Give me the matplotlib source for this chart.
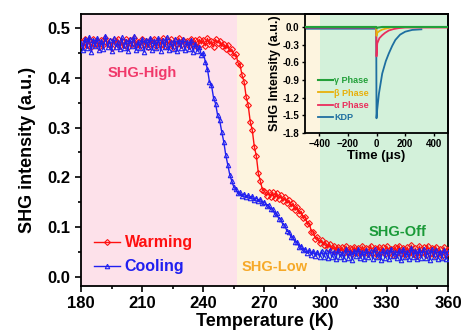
import numpy as np
import matplotlib
matplotlib.use("Agg")
import matplotlib.pyplot as plt
from matplotlib.ticker import MultipleLocator, FormatStrFormatter

plt.rcParams['font.family'] = ['Liberation Sans', 'DejaVu Sans']
plt.rcParams['font.weight'] = 'bold'

# ---- temperature-dependent SHG (1 K steps, 180-360 K) ----
temperature = np.arange(180, 361, 1)

warming = [
    0.472, 0.463, 0.478, 0.466, 0.475, 0.461, 0.477, 0.468, 0.474, 0.462,
    0.476, 0.465, 0.479, 0.467, 0.473, 0.460, 0.476, 0.469, 0.478, 0.464,
    0.474, 0.466, 0.477, 0.462, 0.475, 0.468, 0.479, 0.465, 0.472, 0.463,
    0.477, 0.467, 0.474, 0.461, 0.476, 0.469, 0.478, 0.464, 0.473, 0.466,
    0.479, 0.463, 0.475, 0.468, 0.477, 0.462, 0.474, 0.467, 0.480, 0.465,
    0.476, 0.469, 0.474, 0.463, 0.478, 0.466, 0.475, 0.461, 0.477, 0.468,
    0.476, 0.464, 0.479, 0.467, 0.474, 0.462, 0.477, 0.470, 0.474, 0.463,
    0.468, 0.458, 0.466, 0.452, 0.457, 0.444, 0.447, 0.430, 0.426, 0.405,
    0.392, 0.362, 0.345, 0.312, 0.295, 0.262, 0.243, 0.208, 0.192, 0.175,
    0.172, 0.163, 0.171, 0.160, 0.170, 0.158, 0.168, 0.157, 0.164, 0.152,
    0.160, 0.148, 0.154, 0.141, 0.148, 0.134, 0.141, 0.127, 0.132, 0.118,
    0.121, 0.106, 0.108, 0.091, 0.090, 0.077, 0.080, 0.068, 0.074, 0.064,
    0.069, 0.058, 0.066, 0.055, 0.063, 0.052, 0.061, 0.050, 0.060, 0.049,
    0.062, 0.049, 0.059, 0.047, 0.061, 0.050, 0.058, 0.046, 0.062, 0.051,
    0.059, 0.047, 0.063, 0.049, 0.058, 0.045, 0.061, 0.050, 0.060, 0.046,
    0.062, 0.048, 0.057, 0.044, 0.061, 0.049, 0.063, 0.047, 0.059, 0.045,
    0.060, 0.048, 0.064, 0.046, 0.058, 0.043, 0.062, 0.049, 0.060, 0.044,
    0.063, 0.047, 0.059, 0.045, 0.061, 0.048, 0.057, 0.043, 0.060, 0.046,
    0.055,
]

cooling = [
    0.470, 0.455, 0.478, 0.460, 0.482, 0.452, 0.475, 0.463, 0.480, 0.456,
    0.473, 0.458, 0.484, 0.461, 0.476, 0.453, 0.479, 0.462, 0.471, 0.457,
    0.481, 0.459, 0.474, 0.454, 0.477, 0.463, 0.483, 0.455, 0.472, 0.460,
    0.478, 0.452, 0.475, 0.462, 0.480, 0.456, 0.473, 0.459, 0.479, 0.454,
    0.476, 0.461, 0.482, 0.455, 0.471, 0.458, 0.477, 0.453, 0.474, 0.460,
    0.478, 0.455, 0.472, 0.458, 0.475, 0.452, 0.468, 0.454, 0.462, 0.446,
    0.450, 0.432, 0.418, 0.392, 0.385, 0.360, 0.348, 0.325, 0.315, 0.292,
    0.272, 0.245, 0.225, 0.205, 0.192, 0.180, 0.176, 0.168, 0.170, 0.163,
    0.167, 0.160, 0.164, 0.158, 0.162, 0.155, 0.159, 0.152, 0.156, 0.149,
    0.151, 0.143, 0.145, 0.136, 0.137, 0.127, 0.128, 0.117, 0.117, 0.105,
    0.104, 0.092, 0.091, 0.080, 0.080, 0.070, 0.071, 0.061, 0.063, 0.054,
    0.057, 0.048, 0.054, 0.045, 0.052, 0.042, 0.051, 0.041, 0.053, 0.040,
    0.052, 0.038, 0.055, 0.040, 0.050, 0.036, 0.054, 0.041, 0.049, 0.037,
    0.056, 0.039, 0.051, 0.035, 0.053, 0.042, 0.057, 0.038, 0.050, 0.036,
    0.054, 0.040, 0.052, 0.037, 0.056, 0.041, 0.049, 0.035, 0.055, 0.039,
    0.053, 0.036, 0.057, 0.042, 0.050, 0.038, 0.054, 0.034, 0.056, 0.040,
    0.051, 0.037, 0.058, 0.041, 0.053, 0.036, 0.055, 0.039, 0.057, 0.038,
    0.052, 0.035, 0.056, 0.040, 0.054, 0.037, 0.051, 0.039, 0.055, 0.036,
    0.050,
]

# phase regions (K)
region_edges = [180, 256.5, 297, 360]
region_colors = ['#fde1ea', '#fdf4df', '#d3f1da']
region_names = ['SHG-High', 'SHG-Low', 'SHG-Off']

# ---- time-resolved SHG (inset) ----
t_kdp = [-500, -100, -2, 0, 5, 17, 40, 65, 86, 110, 132, 165, 201, 250, 314]
v_kdp = [-0.03, -0.03, -0.03, -1.55, -1.40, -1.13, -0.79, -0.58, -0.45, -0.32,
         -0.22, -0.13, -0.08, -0.05, -0.04]
t_alpha = [-500, -2, 0, 5, 20, 40, 60, 86, 120, 155, 200, 500]
v_alpha = [-0.01, -0.01, -0.50, -0.28, -0.19, -0.14, -0.10, -0.06, -0.035, -0.02,
           -0.01, -0.01]
t_beta = [-500, -2, 0, 5, 20, 40, 60, 90, 120, 500]
v_beta = [0.0, 0.0, -0.15, -0.10, -0.07, -0.045, -0.03, -0.015, 0.0, 0.0]
t_gamma = [-500, -2, 0, 10, 40, 500]
v_gamma = [0.0, 0.0, -0.02, -0.01, 0.0, 0.0]

fig = plt.figure(figsize=(4.65, 3.35), dpi=100)
ax = fig.add_axes([0.1742, 0.1463, 0.7892, 0.8119])

for (x0, x1), c in zip(zip(region_edges[:-1], region_edges[1:]), region_colors):
    ax.axvspan(x0, x1, color=c, lw=0, zorder=0)

red = '#ff1010'
blue = '#2020f0'
ax.plot(temperature, warming, color=red, lw=1.0, marker='D', ms=3.0,
        mfc='none', mew=0.8, label='Warming', zorder=3)
ax.plot(temperature, cooling, color=blue, lw=1.0, marker='^', ms=3.2,
        mfc='none', mew=0.8, label='Cooling', zorder=4)

ax.set_xlim(180, 360)
ax.set_ylim(-0.018, 0.528)
ax.xaxis.set_major_locator(MultipleLocator(30))
ax.xaxis.set_minor_locator(MultipleLocator(15))
ax.yaxis.set_major_locator(MultipleLocator(0.1))
ax.yaxis.set_minor_locator(MultipleLocator(0.05))
ax.tick_params(which='both', direction='out', width=1.2, labelsize=12)
ax.tick_params(which='major', length=4)
ax.tick_params(which='minor', length=2.5)
ax.yaxis.set_major_formatter(FormatStrFormatter('%.1f'))
for s in ax.spines.values():
    s.set_linewidth(1.3)

ax.set_xlabel('Temperature (K)', fontsize=13, fontweight='bold', labelpad=1)
ax.set_ylabel('SHG intensity (a.u.)', fontsize=13, fontweight='bold', labelpad=8.5)

ax.text(210, 0.41, region_names[0], color='#f0386a', fontsize=10.5,
        fontweight='bold', ha='center', va='center')
ax.text(275, 0.021, region_names[1], color='#f6a928', fontsize=10.5,
        fontweight='bold', ha='center', va='center')
ax.text(335.5, 0.091, region_names[2], color='#1a9a38', fontsize=10.5,
        fontweight='bold', ha='center', va='center')

leg = ax.legend(loc='lower left', bbox_to_anchor=(0.01, 0.008), frameon=False,
                fontsize=11.5, handlelength=1.6, handletextpad=0.3,
                labelspacing=0.55, borderaxespad=0.2)
for txt, c in zip(leg.get_texts(), [red, blue]):
    txt.set_color(c)
    txt.set_fontweight('bold')

# ---- inset ----
ins = fig.add_axes([0.656, 0.603, 0.3074, 0.3552])
ins.set_facecolor('none')
ins.plot(t_kdp, v_kdp, color='#1e6fa0', lw=1.3, label='KDP', zorder=2)
ins.plot(t_alpha, v_alpha, color='#ea2e5c', lw=1.3, label='\u03b1 Phase', zorder=3)
ins.plot(t_beta, v_beta, color='#e8b00a', lw=1.3, label='\u03b2 Phase', zorder=4)
ins.plot(t_gamma, v_gamma, color='#22a03a', lw=1.5, label='\u03b3 Phase', zorder=5)
ins.set_xlim(-500, 500)
ins.set_ylim(-1.8, 0.22)
ins.set_xticks([-400, -200, 0, 200, 400])
ins.set_yticks([0.0, -0.3, -0.6, -0.9, -1.2, -1.5, -1.8])
ins.yaxis.set_major_formatter(FormatStrFormatter('%.1f'))
ins.tick_params(direction='out', length=2.5, width=1, labelsize=7, pad=1.5)
for s in ins.spines.values():
    s.set_linewidth(1.3)
ins.set_xlabel('Time (\u03bcs)', fontsize=9.5, fontweight='bold', labelpad=1)
ins.set_ylabel('SHG Intensity (a.u.)', fontsize=9, fontweight='bold', labelpad=1)

handles, labels = ins.get_legend_handles_labels()
order = [3, 2, 1, 0]
ileg = ins.legend([handles[i] for i in order], [labels[i] for i in order],
                  loc='lower left', bbox_to_anchor=(0.06, 0.055), frameon=False,
                  fontsize=6.5, handlelength=1.6, handletextpad=0.2,
                  labelspacing=0.35, borderaxespad=0.1)
for txt, line in zip(ileg.get_texts(), ileg.get_lines()):
    txt.set_color(line.get_color())
    txt.set_fontweight('bold')

fig.savefig('out.png', dpi=100)
